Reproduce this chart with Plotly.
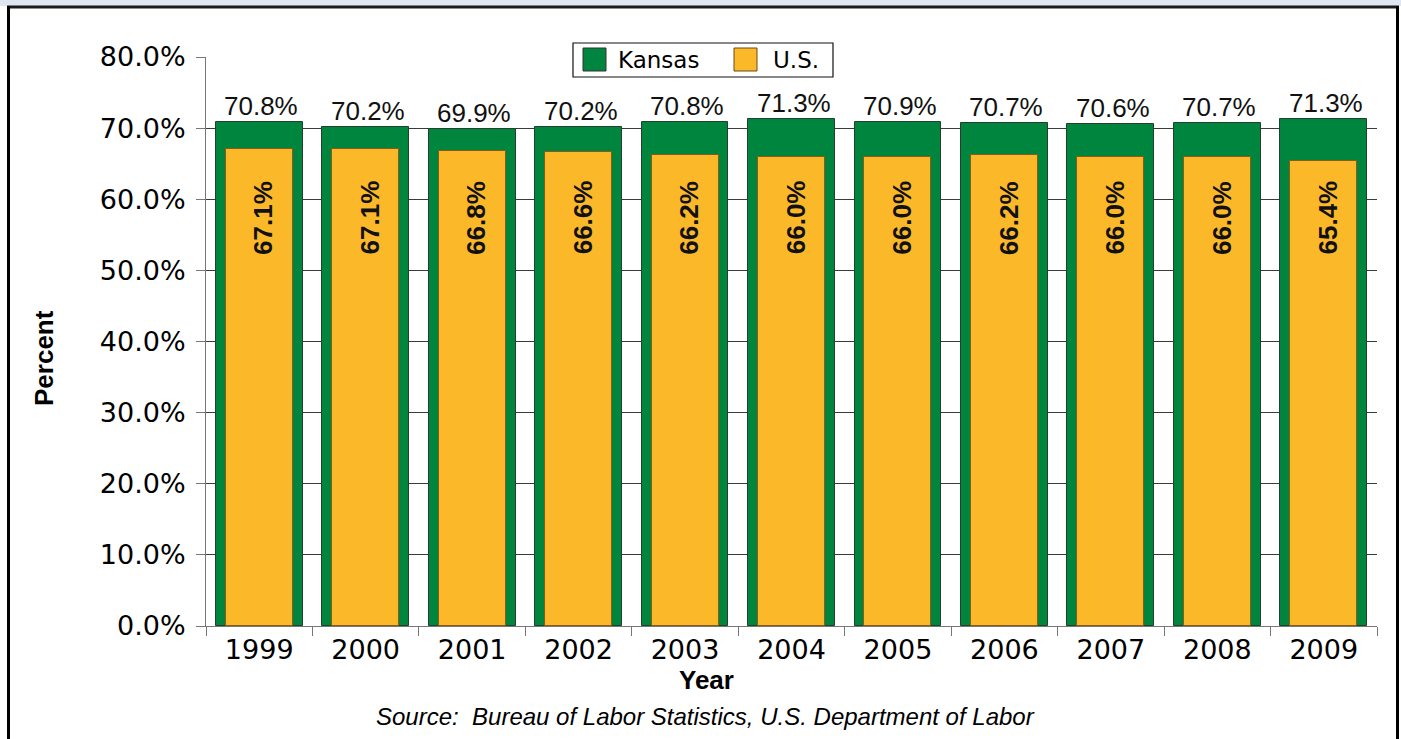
import plotly.graph_objects as go

# Data
years = ["1999", "2000", "2001", "2002", "2003", "2004", "2005", "2006", "2007", "2008", "2009"]
kansas = [70.8, 70.2, 69.9, 70.2, 70.8, 71.3, 70.9, 70.7, 70.6, 70.7, 71.3]
us = [67.1, 67.1, 66.8, 66.6, 66.2, 66.0, 66.0, 66.2, 66.0, 66.0, 65.4]
y_ticks = [0, 10, 20, 30, 40, 50, 60, 70, 80]
y_tick_labels = [f"{v:.1f}%" for v in y_ticks]

GREEN = "#00853E"
GOLD = "#FBB829"

# Figure geometry (pixels)
W, H = 1401, 739
L, R, T, B = 206, 1377, 57, 626


def xp(px):
    return (px - L) / (R - L)


def yp(py):
    return (B - py) / (B - T)


fig = go.Figure()
fig.add_trace(go.Bar(
    x=years, y=kansas, name="Kansas", width=0.815,
    marker=dict(color=GREEN, line=dict(color="#22402c", width=1)),
    hoverinfo="x+y",
))
fig.add_trace(go.Bar(
    x=years, y=us, name="U.S.", width=0.63,
    marker=dict(color=GOLD, line=dict(color="#8b5a14", width=1)),
    hoverinfo="x+y",
))

annotations = []
# Kansas values above the bars (x given as category index)
for i, v in enumerate(kansas):
    annotations.append(dict(
        x=i, y=v, xref="x", yref="y", xanchor="center", yanchor="bottom", showarrow=False,
        text=f"{v:.1f}%", font=dict(family="Liberation Sans, Arial", size=26, color="#111"),
        xshift=2, yshift=-1,
    ))
# U.S. values inside the bars, on a common line
US_LABEL_Y = 57.4
for i, v in enumerate(us):
    annotations.append(dict(
        x=i, y=US_LABEL_Y, xref="x", yref="y", yanchor="middle", xanchor="center",
        showarrow=False, textangle=-90, xshift=4,
        text=f"<b>{v:.1f}%</b>", font=dict(family="Liberation Sans, Arial", size=26, color="#111"),
    ))

# Axis titles and source
annotations.append(dict(
    x=xp(44), y=yp(358), xref="paper", yref="paper", xanchor="center", yanchor="middle",
    showarrow=False, textangle=-90,
    text="<b>Percent</b>", font=dict(family="Liberation Sans, Arial", size=26, color="#000"),
))
annotations.append(dict(
    x=xp(706), y=yp(680), xref="paper", yref="paper", xanchor="center", yanchor="middle",
    showarrow=False,
    text="<b>Year</b>", font=dict(family="Liberation Sans, Arial", size=26, color="#000"),
))
annotations.append(dict(
    x=xp(705), y=yp(716), xref="paper", yref="paper", xanchor="center", yanchor="middle",
    showarrow=False,
    text="<i>Source:  Bureau of Labor Statistics, U.S. Department of Labor</i>",
    font=dict(family="Liberation Sans, Arial", size=24, color="#000"),
))

# Legend box drawn with shapes
legend_font = dict(family="DejaVu Sans", size=23, color="#000")
annotations.append(dict(
    x=xp(616), y=yp(60), xref="paper", yref="paper", xanchor="left", yanchor="middle",
    showarrow=False, text="Kansas", font=legend_font,
))
annotations.append(dict(
    x=xp(771), y=yp(60), xref="paper", yref="paper", xanchor="left", yanchor="middle",
    showarrow=False, text="U.S.", font=legend_font,
))

shapes = [
    # header band and frame
    dict(type="rect", xref="paper", yref="paper", x0=xp(0), x1=xp(W), y0=yp(0), y1=yp(6),
         fillcolor="#dfe6f2", line=dict(width=0), layer="above"),
    dict(type="line", xref="paper", yref="paper", x0=xp(7), x1=xp(1399), y0=yp(7), y1=yp(7),
         line=dict(color="#1a1a1a", width=3), layer="above"),
    dict(type="line", xref="paper", yref="paper", x0=xp(8.5), x1=xp(8.5), y0=yp(6), y1=yp(H),
         line=dict(color="#000", width=3), layer="above"),
    dict(type="line", xref="paper", yref="paper", x0=xp(1397.5), x1=xp(1397.5), y0=yp(6), y1=yp(H),
         line=dict(color="#000", width=3), layer="above"),
    # legend
    dict(type="rect", xref="paper", yref="paper", x0=xp(573), x1=xp(833), y0=yp(43), y1=yp(77),
         fillcolor="#fff", line=dict(color="#111", width=1.2), layer="above"),
    dict(type="rect", xref="paper", yref="paper", x0=xp(583), x1=xp(606), y0=yp(48), y1=yp(71),
         fillcolor=GREEN, line=dict(color="#333", width=1), layer="above"),
    dict(type="rect", xref="paper", yref="paper", x0=xp(734), x1=xp(757), y0=yp(48), y1=yp(71),
         fillcolor=GOLD, line=dict(color="#6b4a14", width=1), layer="above"),
]

fig.update_layout(
    width=W, height=H,
    margin=dict(l=L, r=W - R, t=T, b=H - B, pad=0),
    paper_bgcolor="#fff", plot_bgcolor="#fff",
    barmode="overlay", bargap=0,
    showlegend=False,
    annotations=annotations,
    shapes=shapes,
    font=dict(family="Liberation Sans, Arial", color="#000"),
)
fig.update_xaxes(
    type="category", range=[-0.5, len(years) - 0.5], tickson="boundaries",
    ticks="outside", ticklen=9, tickangle=0,
    tickcolor="#777", tickwidth=1, showline=True, linecolor="#777", linewidth=1,
    showgrid=False, tickfont=dict(family="DejaVu Sans", size=27, color="#000"),
)
fig.update_yaxes(
    range=[0, 80], tickvals=y_ticks, ticktext=y_tick_labels, ticks="outside", ticklen=9,
    tickcolor="#777", tickwidth=1, showline=True, linecolor="#777", linewidth=1,
    showgrid=True, gridcolor="#3a3a3a", gridwidth=1, zeroline=False,
    ticklabelstandoff=5, tickfont=dict(family="DejaVu Sans", size=27, color="#000"),
)

fig.write_html("out.html")
